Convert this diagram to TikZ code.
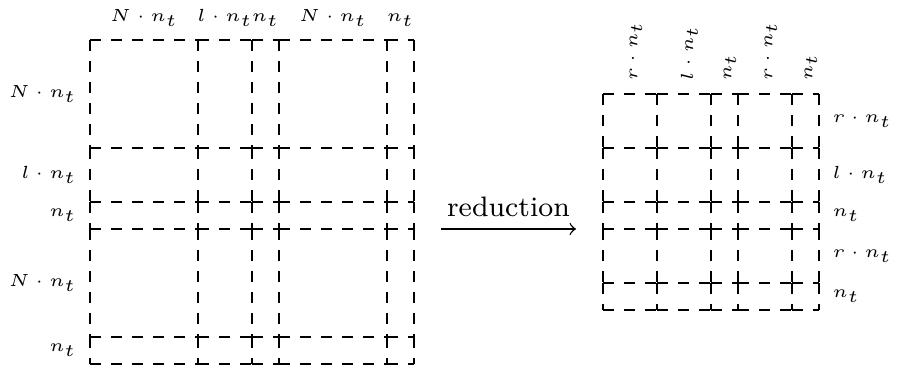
\documentclass[tikz,border=0pt]{standalone}
\usetikzlibrary{positioning}
\begin{document}
\begin{tikzpicture}[
        x=0.27cm, y=0.27cm,
        block/.style={draw, dashed},
        sizelabel/.style={font=\tiny, inner sep=1.67pt},
        toplabel/.style={sizelabel, rotate=90, anchor=west},
        arrow/.style={->}
    ]
    \useasboundingbox (-3.333,1.481) rectangle (29.889,-12.111);

    % --- LEFT: full matrix (every side its own dash run) ---
    \foreach \xa/\xb in {0/4, 4/6, 6/7, 7/11, 11/12}
        \foreach \ya/\yb in {0/-4, -4/-6, -6/-7, -7/-11, -11/-12}
            \draw[block] (\xa,\ya) -- (\xb,\ya) (\xa,\yb) -- (\xb,\yb)
                         (\xa,\ya) -- (\xa,\yb) (\xb,\ya) -- (\xb,\yb);

    % column sizes
    \node[sizelabel, above=2pt] (fullcol1) at (2,0) {$N \cdot n_t$};
    \node[sizelabel, above=2pt] (fullcol2) at (5,0) {$l \cdot n_t$};
    \node[sizelabel, above=2pt] (fullcol3) at (6.5,0) {$n_t$};
    \node[sizelabel, above=2pt] (fullcol4) at (9,0) {$N \cdot n_t$};
    \node[sizelabel, above=2pt] (fullcol5) at (11.5,0) {$n_t$};

    % row sizes
    \node[sizelabel, left=2pt] (fullrow1) at (0,-2) {$N \cdot n_t$};
    \node[sizelabel, left=2pt] (fullrow2) at (0,-5) {$l \cdot n_t$};
    \node[sizelabel, left=2pt] (fullrow3) at (0,-6.5) {$n_t$};
    \node[sizelabel, left=2pt] (fullrow4) at (0,-9) {$N \cdot n_t$};
    \node[sizelabel, left=2pt] (fullrow5) at (0,-11.5) {$n_t$};

    % --- RIGHT: reduced matrix ---
    \foreach \xa/\xb in {19/21, 21/23, 23/24, 24/26, 26/27}
        \foreach \ya/\yb in {-2/-4, -4/-6, -6/-7, -7/-9, -9/-10}
            \draw[block] (\xa,\ya) -- (\xb,\ya) (\xa,\yb) -- (\xb,\yb)
                         (\xa,\ya) -- (\xa,\yb) (\xb,\ya) -- (\xb,\yb);

    % column sizes
    \node[toplabel] (redcol1) at (20.2,-1.75) {$r \cdot n_t$};
    \node[toplabel] (redcol2) at (22.2,-1.75) {$l \cdot n_t$};
    \node[toplabel] (redcol3) at (23.7,-1.75) {$n_t$};
    \node[toplabel] (redcol4) at (25.2,-1.75) {$r \cdot n_t$};
    \node[toplabel] (redcol5) at (26.7,-1.75) {$n_t$};

    % row sizes
    \node[sizelabel, right=2pt] (redrow1) at (27,-3) {$r \cdot n_t$};
    \node[sizelabel, right=2pt] (redrow2) at (27,-5) {$l \cdot n_t$};
    \node[sizelabel, right=2pt] (redrow3) at (27,-6.5) {$n_t$};
    \node[sizelabel, right=2pt] (redrow4) at (27,-8) {$r \cdot n_t$};
    \node[sizelabel, right=2pt] (redrow5) at (27,-9.5) {$n_t$};

    % --- reduction arrow ---
    \coordinate (fullend) at (13,-7);
    \coordinate (redstart) at (18,-7);
    \draw[arrow] (fullend) -- node[above, font=\footnotesize] (redlabel) {reduction} (redstart);

\end{tikzpicture}
\end{document}
